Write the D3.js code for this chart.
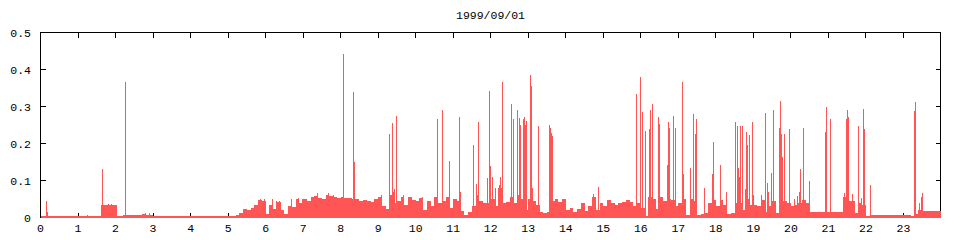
<!DOCTYPE html>
<html>
<head>
<meta charset="utf-8">
<title>1999/09/01</title>
<script src="https://cdn.jsdelivr.net/npm/d3@7"></script>
<style>
  body { margin: 0; background: #fff; }
  text { font-family: "Liberation Mono", "DejaVu Sans Mono", monospace; font-size: 11.5px; fill: #000; }
</style>
</head>
<body>
<script>
// title and ticks
var title = "1999/09/01"
var xTicks = d3.range(0, 24)
var yTicks = [0, 0.1, 0.2, 0.3, 0.4, 0.5]
var yTickLabels = ["0", "0.1", "0.2", "0.3", "0.4", "0.5"]

// background level, one value per 0.1 hour
var stepHours = 0.1
var baseline = [
  0.005,0.005,0.005,0.005,0.005,0.005,0.005,0.005,0.005,0.005,
  0.005,0.005,0.005,0.005,0.005,0.005,0.034,0.033,0.034,0.034,
  0.005,0.005,0.008,0.008,0.008,0.008,0.008,0.009,0.008,0.008,
  0.005,0.005,0.005,0.005,0.005,0.005,0.005,0.005,0.005,0.005,
  0.005,0.005,0.005,0.005,0.005,0.005,0.005,0.005,0.005,0.005,
  0.003,0.003,0.007,0.013,0.022,0.020,0.025,0.035,0.046,0.045,
  0.010,0.035,0.022,0.042,0.020,0.010,0.030,0.028,0.050,0.040,
  0.051,0.045,0.055,0.058,0.052,0.050,0.060,0.058,0.055,0.052,
  0.055,0.054,0.052,0.051,0.051,0.045,0.048,0.045,0.042,0.050,
  0.055,0.030,0.022,0.060,0.040,0.045,0.055,0.035,0.055,0.046,
  0.044,0.052,0.020,0.045,0.030,0.055,0.040,0.045,0.055,0.025,
  0.050,0.045,0.018,0.008,0.014,0.030,0.060,0.045,0.038,0.040,
  0.050,0.030,0.080,0.040,0.042,0.055,0.040,0.060,0.050,0.020,
  0.050,0.045,0.035,0.015,0.012,0.016,0.045,0.050,0.042,0.050,
  0.020,0.026,0.016,0.022,0.040,0.018,0.030,0.055,0.020,0.040,
  0.030,0.048,0.040,0.035,0.040,0.043,0.046,0.042,0.030,0.040,
  0.025,0.005,0.055,0.050,0.022,0.055,0.045,0.050,0.048,0.030,
  0.040,0.050,0.008,0.050,0.045,0.007,0.009,0.012,0.038,0.048,
  0.030,0.048,0.034,0.010,0.012,0.040,0.040,0.020,0.050,0.035,
  0.033,0.030,0.048,0.015,0.030,0.045,0.012,0.040,0.045,0.040,
  0.030,0.035,0.040,0.048,0.040,0.016,0.016,0.016,0.016,0.016,
  0.014,0.014,0.014,0.014,0.055,0.044,0.045,0.012,0.040,0.035,
  0.005,0.007,0.007,0.007,0.007,0.007,0.007,0.007,0.007,0.007,
  0.007,0.007,0.005,0.010,0.020,0.018,0.018,0.018,0.018,0.018
]

// narrow peaks and dips: hour of day and value
var spikeHours = [
  0.14,0.16,1.25,1.63,1.80,1.88,2.01,2.24,2.26,2.78,2.90,
  5.85,5.97,6.16,6.27,6.36,6.67,6.85,6.96,7.23,7.36,7.67,7.80,
  8.05,8.32,8.35,9.07,9.30,9.38,9.40,9.42,9.48,
  9.67,10.16,10.56,10.58,10.70,10.88,10.90,11.15,11.17,
  11.52,11.62,11.65,11.89,11.95,11.99,12.02,12.10,12.23,12.25,12.29,
  12.53,12.60,12.69,12.71,12.74,12.76,12.78,12.87,12.89,12.91,12.93,12.95,
  13.04,13.06,13.09,13.25,13.56,13.58,13.60,13.62,
  14.72,14.87,
  15.86,15.97,16.02,16.04,16.10,16.22,16.25,16.30,16.46,16.48,
  16.71,16.73,16.75,16.85,16.90,
  17.10,17.13,17.32,17.38,17.45,17.48,17.69,17.90,17.93,
  18.10,18.27,18.50,18.56,18.58,18.61,18.64,18.69,18.78,18.80,18.82,18.88,18.97,18.99,
  19.21,19.32,19.36,19.39,19.46,19.53,19.67,19.72,19.74,19.76,19.81,19.94,19.96,
  20.08,20.15,20.21,20.23,20.33,20.47,
  20.91,20.94,21.05,
  21.42,21.48,21.50,21.53,21.63,21.80,21.88,21.91,21.94,22.11,
  23.28,23.31,23.42,23.47,23.50
]
var spikeValues = [
  0.045,0.014,0.007,0.130,0.036,0.036,0.033,0.367,0.060,0.011,0.011,
  0.050,0.050,0.051,0.045,0.044,0.051,0.053,0.051,0.055,0.065,0.065,0.062,
  0.442,0.339,0.150,0.060,0.225,0.255,0.070,0.078,0.273,
  0.062,0.055,0.067,0.266,0.290,0.154,0.061,0.272,0.070,
  0.195,0.090,0.257,0.108,0.342,0.139,0.110,0.080,0.088,0.110,0.366,
  0.306,0.266,0.290,0.279,0.270,0.190,0.250,0.266,0.272,0.250,0.252,0.260,
  0.385,0.355,0.080,0.246,0.249,0.243,0.229,0.220,
  0.063,0.082,
  0.333,0.380,0.284,0.246,0.235,0.238,0.290,0.306,0.271,0.252,
  0.143,0.259,0.243,0.273,0.241,
  0.366,0.117,0.135,0.279,0.227,0.265,0.081,0.117,0.203,
  0.141,0.070,0.257,0.248,0.135,0.110,0.247,0.248,0.078,0.230,0.197,0.223,0.257,0.060,
  0.060,0.283,0.093,0.069,0.119,0.290,0.241,0.315,0.225,0.163,0.225,0.238,0.070,
  0.050,0.057,0.070,0.132,0.243,0.100,
  0.232,0.298,0.266,
  0.065,0.265,0.290,0.271,0.063,0.247,0.053,0.293,0.239,0.089,
  0.288,0.312,0.040,0.055,0.067
]

var w = 960, h = 240
var plotLeft = 40.5, plotRight = 940.5, plotTop = 32.5, plotBottom = 217.5
var barColor = "#ff5555"

var svg = d3.select("body").append("svg").attr("width", w).attr("height", h)

var xScale = d3.scaleLinear().domain([0, 24]).range([plotLeft, 941])
var yScale = d3.scaleLinear().domain([0, 0.5]).range([plotBottom, plotTop])

// frame
svg.append("rect")
  .attr("x", plotLeft).attr("y", plotTop)
  .attr("width", plotRight - plotLeft).attr("height", plotBottom - plotTop)
  .attr("fill", "none").attr("stroke", "#000").attr("stroke-width", 1)
  .attr("shape-rendering", "crispEdges")

// inward ticks on all four sides
var tickLen = 5
var tg = svg.append("g").attr("shape-rendering", "crispEdges")
xTicks.forEach(function(t) {
  var x = Math.round(xScale(t) - 0.5) + 0.5
  tg.append("line").attr("x1", x).attr("x2", x).attr("y1", plotBottom).attr("y2", plotBottom - tickLen).attr("stroke", "#000")
  tg.append("line").attr("x1", x).attr("x2", x).attr("y1", plotTop).attr("y2", plotTop + tickLen).attr("stroke", "#000")
  svg.append("text").attr("x", xScale(t)).attr("y", 232).attr("text-anchor", "middle").text(t)
})
yTicks.forEach(function(t, i) {
  var y = Math.round(yScale(t) - 0.5) + 0.5
  tg.append("line").attr("x1", plotLeft).attr("x2", plotLeft + tickLen).attr("y1", y).attr("y2", y).attr("stroke", "#000")
  tg.append("line").attr("x1", plotRight).attr("x2", plotRight - tickLen).attr("y1", y).attr("y2", y).attr("stroke", "#000")
  svg.append("text").attr("x", 31).attr("y", yScale(t) + 4).attr("text-anchor", "end").text(yTickLabels[i])
})

svg.append("text").attr("x", (plotLeft + plotRight) / 2).attr("y", 19).attr("text-anchor", "middle").text(title)

// bars drawn over the frame, like gnuplot does
var plot = svg.append("g").attr("shape-rendering", "crispEdges")
var floorY = plotBottom + 0.5

plot.selectAll("rect.base")
  .data(baseline)
  .enter().append("rect")
  .attr("class", "base")
  .attr("x", function(d, i) { return xScale(i * stepHours) })
  .attr("width", function(d, i) { return Math.min(xScale((i + 1) * stepHours), plotRight) - xScale(i * stepHours) })
  .attr("y", function(d) { return yScale(d) })
  .attr("height", function(d) { return floorY - yScale(d) })
  .attr("fill", barColor)

plot.selectAll("rect.spike")
  .data(spikeHours)
  .enter().append("rect")
  .attr("class", "spike")
  .attr("x", function(d) { return Math.round(xScale(d)) })
  .attr("width", 1.4)
  .attr("y", function(d, i) { return yScale(spikeValues[i]) })
  .attr("height", function(d, i) { return floorY - yScale(spikeValues[i]) })
  .attr("fill", barColor)
</script>
</body>
</html>
